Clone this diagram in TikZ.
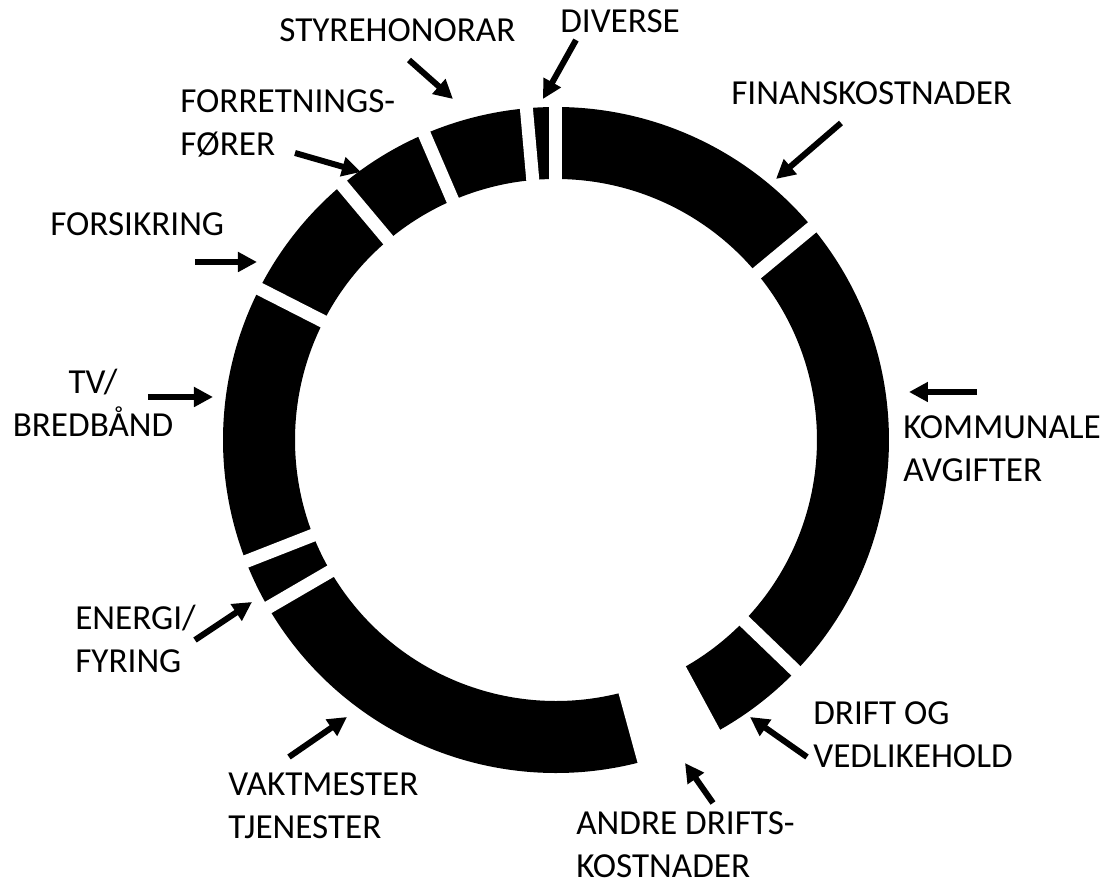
\documentclass[tikz,border=0pt]{standalone}
\usepackage{fontspec}
\setmainfont{Carlito}
\usetikzlibrary{arrows.meta}

\begin{document}
\begin{tikzpicture}[
    etikett/.style={
        anchor=base west,
        inner sep=0pt,
        align=left,
        font=\fontsize{20}{24.5}\selectfont
    },
    slice/.style={
        line width=1.44cm,
        black
    },
    gap/.style={
        line width=0.26cm,
        white
    },
    pil/.style={
        -{Triangle[length=0.38cm,width=0.38cm]},
        line width=0.12cm,
        black
    }
]
\useasboundingbox (-11.12,-8.96) rectangle (11.04,8.8);

% Ring segments (clockwise from the top)
\draw[slice] (90:5.94) arc[start angle=90, end angle=39.7, radius=5.94];      % finans
\draw[slice] (39.7:5.94) arc[start angle=39.7, end angle=-43.9, radius=5.94]; % kommunale
\draw[slice] (-43.9:5.94) arc[start angle=-43.9, end angle=-61.6, radius=5.94]; % drift
% andre driftskostnader is left white
\draw[slice] (-74.7:5.94) arc[start angle=-74.7, end angle=-149.8, radius=5.94]; % vaktmester
\draw[slice] (-149.8:5.94) arc[start angle=-149.8, end angle=-158.6, radius=5.94]; % energi
\draw[slice] (-158.6:5.94) arc[start angle=-158.6, end angle=-207, radius=5.94]; % tv
\draw[slice] (-207:5.94) arc[start angle=-207, end angle=-230, radius=5.94];     % forsikring
\draw[slice] (-230:5.94) arc[start angle=-230, end angle=-246.7, radius=5.94];   % forretning
\draw[slice] (-246.7:5.94) arc[start angle=-246.7, end angle=-264.9, radius=5.94]; % styre
\draw[slice] (-264.9:5.94) arc[start angle=-264.9, end angle=-270, radius=5.94]; % diverse

% White borders between segments
\draw[gap] (90:5.0) -- (90:6.9);
\draw[gap] (39.7:5.0) -- (39.7:6.9);
\draw[gap] (-43.9:5.0) -- (-43.9:6.9);
\draw[gap] (-61.6:5.0) -- (-61.6:6.9);
\draw[gap] (-74.7:5.0) -- (-74.7:6.9);
\draw[gap] (-149.8:5.0) -- (-149.8:6.9);
\draw[gap] (-158.6:5.0) -- (-158.6:6.9);
\draw[gap] (153:5.0) -- (153:6.9);
\draw[gap] (130:5.0) -- (130:6.9);
\draw[gap] (113.3:5.0) -- (113.3:6.9);
\draw[gap] (95.1:5.0) -- (95.1:6.9);

% Labels (two-line labels sit on the baseline of their last line)
\node[etikett] at (-5.54,7.96) (styre) {STYREHONORAR};
\node[etikett] at (0.08,8.14) (diverse) {DIVERSE};
\node[etikett] at (3.50,6.70) (finans) {FINANSKOSTNADER};
\node[etikett] at (-7.52,5.68) (forretning) {FORRETNINGS-\\FØRER};
\node[etikett] at (-10.12,4.08) (forsikring) {FORSIKRING};
\node[etikett, anchor=base, align=center] at (-9.26,0.06) (tv) {TV/\\BREDBÅND};
\node[etikett] at (6.94,-0.84) (kommunale) {KOMMUNALE\\AVGIFTER};
\node[etikett] at (-9.62,-4.66) (energi) {ENERGI/\\FYRING};
\node[etikett] at (-6.56,-7.98) (vaktmester) {VAKTMESTER\\TJENESTER};
\node[etikett] at (0.40,-8.76) (andre) {ANDRE DRIFTS-\\KOSTNADER};
\node[etikett] at (5.14,-6.56) (drift) {DRIFT OG\\VEDLIKEHOLD};

% Arrow ends
\coordinate (styre-a) at (-2.94,7.60);
\coordinate (styre-b) at (-2.06,6.82);
\coordinate (diverse-a) at (0.40,8.00);
\coordinate (diverse-b) at (-0.26,6.82);
\coordinate (finans-a) at (5.70,6.34);
\coordinate (finans-b) at (4.40,5.22);
\coordinate (forretning-a) at (-5.22,5.74);
\coordinate (forretning-b) at (-3.90,5.36);
\coordinate (forsikring-a) at (-7.22,3.56);
\coordinate (forsikring-b) at (-5.98,3.56);
\coordinate (tv-a) at (-8.16,0.86);
\coordinate (tv-b) at (-6.86,0.86);
\coordinate (kommunale-a) at (8.42,0.96);
\coordinate (kommunale-b) at (7.06,0.96);
\coordinate (energi-a) at (-7.22,-4.00);
\coordinate (energi-b) at (-6.08,-3.24);
\coordinate (vaktmester-a) at (-5.34,-6.34);
\coordinate (vaktmester-b) at (-4.18,-5.54);
\coordinate (andre-a) at (3.14,-7.26);
\coordinate (andre-b) at (2.58,-6.46);
\coordinate (drift-a) at (5.02,-6.34);
\coordinate (drift-b) at (3.88,-5.54);

% Arrows
\draw[pil] (styre-a) -- (styre-b);
\draw[pil] (diverse-a) -- (diverse-b);
\draw[pil] (finans-a) -- (finans-b);
\draw[pil] (forretning-a) -- (forretning-b);
\draw[pil] (forsikring-a) -- (forsikring-b);
\draw[pil] (tv-a) -- (tv-b);
\draw[pil] (kommunale-a) -- (kommunale-b);
\draw[pil] (energi-a) -- (energi-b);
\draw[pil] (vaktmester-a) -- (vaktmester-b);
\draw[pil] (andre-a) -- (andre-b);
\draw[pil] (drift-a) -- (drift-b);
\end{tikzpicture}
\end{document}
